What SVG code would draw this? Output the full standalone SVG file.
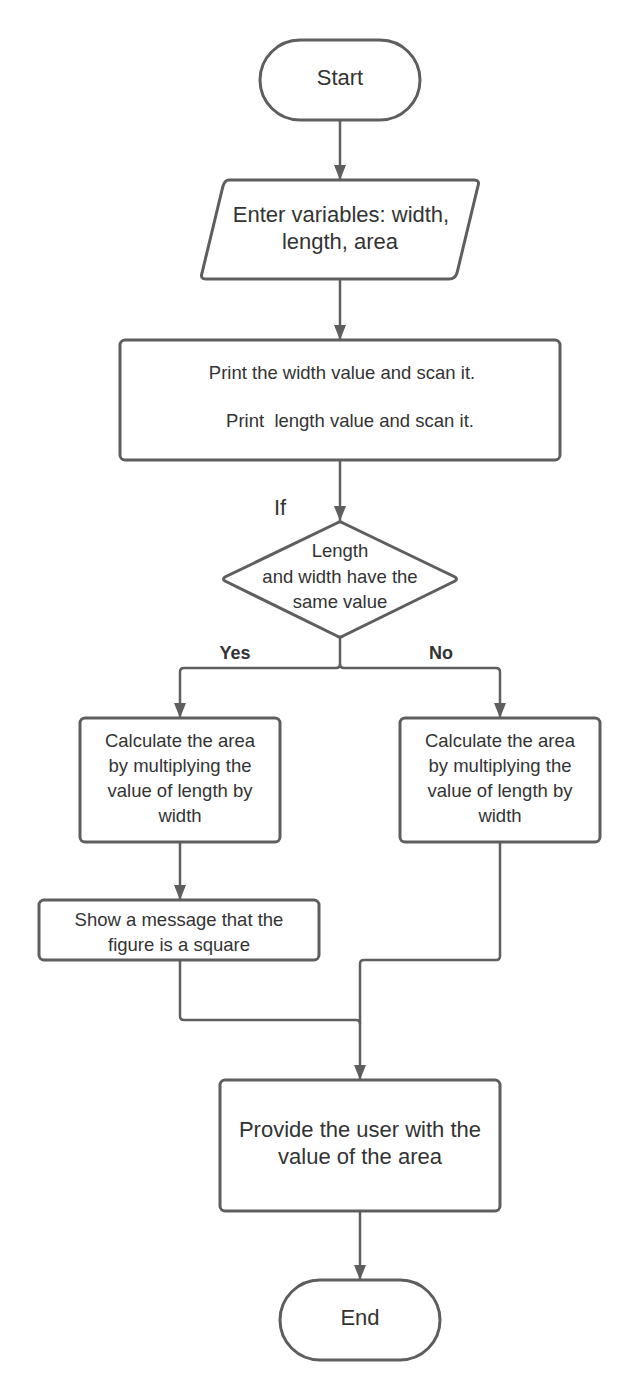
<svg xmlns="http://www.w3.org/2000/svg" width="640" height="1400" viewBox="0 0 640 1400">
<style>
.s{fill:#fff;stroke:#5e5e5e;stroke-width:3;}
.c{fill:none;stroke:#5e5e5e;stroke-width:2.5;stroke-linejoin:round;}
.t{font-family:"Liberation Sans",Arial,sans-serif;fill:#333;text-anchor:middle;}
.l{font-size:22px;}
.m{font-size:18.5px;}
.b{font-size:18px;font-weight:bold;}
</style>
<defs>
<marker id="a" markerUnits="userSpaceOnUse" markerWidth="16" markerHeight="12" refX="15" refY="6" orient="auto" viewBox="0 0 16 12">
<path d="M0,0 L15,6 L0,12 z" fill="#5e5e5e"/>
</marker>
</defs>
<rect width="640" height="1400" fill="#fff"/>
<g id="connectors">
<path class="c" d="M340,120 V180" marker-end="url(#a)"/>
<path class="c" d="M340,280 V340" marker-end="url(#a)"/>
<path class="c" d="M340,460 V521" marker-end="url(#a)"/>
<path class="c" d="M340,638 V664 Q340,668 336,668 H184 Q180,668 180,672 V718" marker-end="url(#a)"/>
<path class="c" d="M340,664 Q340,668 344,668 H496 Q500,668 500,672 V718" marker-end="url(#a)"/>
<path class="c" d="M180,842 V900" marker-end="url(#a)"/>
<path class="c" d="M500,842 V956 Q500,960 496,960 H364 Q360,960 360,964 V1080" marker-end="url(#a)"/>
<path class="c" d="M180,960 V1016 Q180,1020 184,1020 H356 Q360,1020 360,1024"/>
<path class="c" d="M360,1211 V1280" marker-end="url(#a)"/>
</g>
<g id="start">
<rect class="s" x="260" y="40" width="160" height="80" rx="40"/>
<text class="t l" x="340" y="85">Start</text>
</g>
<g id="input">
<path class="s" d="M229,180 H474 Q480,180 478,186 L457,273 Q455,279 449,279 H206 Q200,279 202,273 L223,186 Q225,180 229,180 z"/>
<text class="t l" x="341" y="222">Enter variables: width,</text>
<text class="t l" x="340" y="249">length, area</text>
</g>
<g id="print">
<rect class="s" x="120" y="340" width="440" height="120" rx="5"/>
<text class="t m" x="342" y="379">Print the width value and scan it.</text>
<text class="t m" x="350" y="427" xml:space="preserve">Print  length value and scan it.</text>
</g>
<text class="t l" x="280" y="515">If</text>
<g id="decision">
<path class="s" d="M337,523 Q340,521 343,523 L455,577 Q458,579 455,581 L343,636 Q340,638 337,636 L225,581 Q222,579 225,577 z"/>
<text class="t m" x="340" y="557">Length</text>
<text class="t m" x="340" y="583">and width have the</text>
<text class="t m" x="340" y="608">same value</text>
</g>
<text class="t b" x="235" y="659">Yes</text>
<text class="t b" x="441" y="659">No</text>
<g id="calc-yes">
<rect class="s" x="80" y="718" width="200" height="124" rx="5"/>
<text class="t m" x="180" y="747">Calculate the area</text>
<text class="t m" x="180" y="772">by multiplying the</text>
<text class="t m" x="180" y="797">value of length by</text>
<text class="t m" x="180" y="822">width</text>
</g>
<g id="calc-no">
<rect class="s" x="400" y="718" width="200" height="124" rx="5"/>
<text class="t m" x="500" y="747">Calculate the area</text>
<text class="t m" x="500" y="772">by multiplying the</text>
<text class="t m" x="500" y="797">value of length by</text>
<text class="t m" x="500" y="822">width</text>
</g>
<g id="square">
<rect class="s" x="39" y="900" width="280" height="60" rx="5"/>
<text class="t m" x="179" y="926">Show a message that the</text>
<text class="t m" x="179" y="951">figure is a square</text>
</g>
<g id="provide">
<rect class="s" x="220" y="1080" width="280" height="131" rx="5"/>
<text class="t l" x="360" y="1137">Provide the user with the</text>
<text class="t l" x="360" y="1164">value of the area</text>
</g>
<g id="end">
<rect class="s" x="280" y="1280" width="160" height="80" rx="40"/>
<text class="t l" x="360" y="1325">End</text>
</g>
</svg>
